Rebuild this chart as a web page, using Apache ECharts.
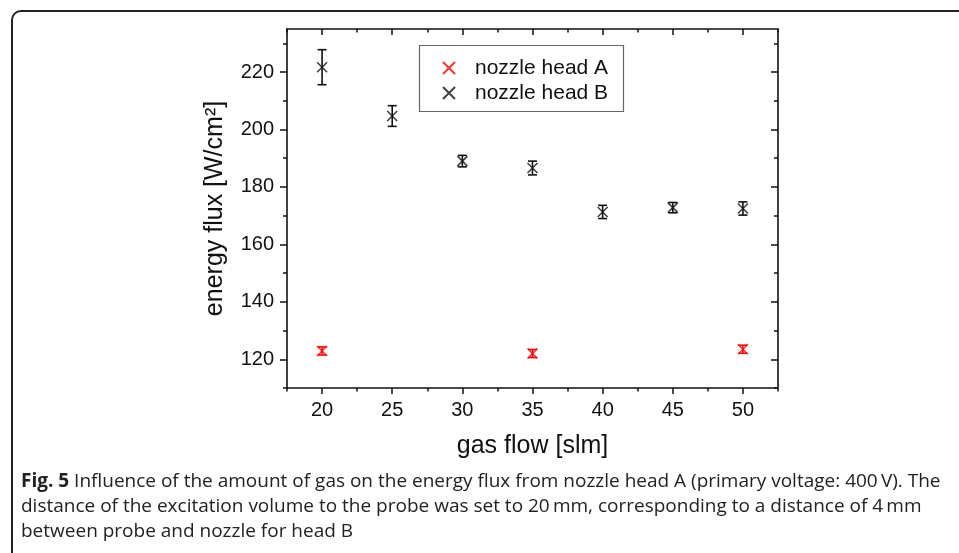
<!DOCTYPE html>
<html>
<head>
<meta charset="utf-8">
<script src="https://cdn.jsdelivr.net/npm/echarts@6/dist/echarts.min.js"></script>
<style>
  html, body { margin: 0; padding: 0; background: #fff; }
  #chart { width: 959px; height: 553px; }
</style>
</head>
<body>
<div id="chart"></div>
<script>
// data
var flowA = [20, 35, 50];
var fluxA = [122.9, 122.0, 123.5];
var errA = [1.4, 1.4, 1.4];

var flowB = [20, 25, 30, 35, 40, 45, 50];
var fluxB = [221.7, 204.7, 189.0, 186.6, 171.3, 172.8, 172.5];
var errB = [6.1, 3.6, 2.0, 2.4, 2.3, 1.8, 2.3];

var xMajor = [20, 25, 30, 35, 40, 45, 50];
var xMinor = [17.5, 22.5, 27.5, 32.5, 37.5, 42.5, 47.5, 52.5];
var yMajor = [120, 140, 160, 180, 200, 220];
var yMinor = [110, 130, 150, 170, 190, 210, 230];

var captionLines = [
  "{b|Fig. 5} Influence of the amount of gas on the energy flux from nozzle head A (primary voltage: 400\u2009V). The",
  "distance of the excitation volume to the probe was set to 20\u2009mm, corresponding to a distance of 4\u2009mm",
  "between probe and nozzle for head B"
];

(function () {
  var myChart = echarts.init(document.getElementById("chart"));
  var cross = "path://M0,0L10,10M10,0L0,10";
  var axisFont = "Liberation Sans";

  function zip(xs, ys, es) {
    return xs.map(function (x, i) { return [x, ys[i], es[i]]; });
  }

  // one axis per tick set (major / minor) and side
  function xAxisOf(pos, ticks, len, showLine, labels) {
    return {
      type: "value", position: pos, min: 17.5, max: 52.5,
      axisLine: { show: showLine, onZero: false, lineStyle: { color: "#111", width: 1.6 } },
      axisTick: { show: true, inside: pos === "top", length: len, customValues: ticks,
        lineStyle: { color: "#111", width: 1.5 } },
      axisLabel: { show: labels, customValues: ticks, margin: 12, fontSize: 20,
        color: "#111", fontFamily: axisFont },
      splitLine: { show: false },
      name: labels ? "gas flow [slm]" : "",
      nameLocation: "middle", nameGap: 46,
      nameTextStyle: { fontSize: 25, color: "#111", fontFamily: axisFont }
    };
  }
  function yAxisOf(pos, ticks, len, showLine, labels) {
    return {
      type: "value", position: pos, min: 110, max: 235,
      axisLine: { show: showLine, onZero: false, lineStyle: { color: "#111", width: 1.6 } },
      axisTick: { show: true, inside: pos === "right", length: len, customValues: ticks,
        lineStyle: { color: "#111", width: 1.5 } },
      axisLabel: { show: labels, customValues: ticks, margin: 13, fontSize: 20,
        color: "#111", fontFamily: axisFont },
      splitLine: { show: false },
      name: labels ? "energy flux [W/cm\u00b2]" : "",
      nameLocation: "middle", nameGap: 59,
      nameTextStyle: { fontSize: 25, color: "#111", fontFamily: axisFont }
    };
  }

  function errorBars(params, api) {
    var x = api.value(0), y = api.value(1), e = api.value(2);
    var hi = api.coord([x, y + e]);
    var lo = api.coord([x, y - e]);
    var hw = 4.5;
    var st = { stroke: api.visual("color"), lineWidth: 1.6 };
    return {
      type: "group",
      children: [
        { type: "line", shape: { x1: hi[0], y1: hi[1], x2: lo[0], y2: lo[1] }, style: st },
        { type: "line", shape: { x1: hi[0] - hw, y1: hi[1], x2: hi[0] + hw, y2: hi[1] }, style: st },
        { type: "line", shape: { x1: lo[0] - hw, y1: lo[1], x2: lo[0] + hw, y2: lo[1] }, style: st }
      ]
    };
  }

  var option = {
    animation: false,
    grid: { left: 287, right: 181, top: 29, bottom: 165 },
    legend: {
      left: 442, top: 57, orient: "vertical", itemGap: 3, padding: 0,
      itemWidth: 12, itemHeight: 12,
      data: ["nozzle head A", "nozzle head B"],
      textStyle: { fontSize: 21, color: "#111", fontFamily: axisFont, lineHeight: 22,
        padding: [0, 0, 0, 15] }
    },
    xAxis: [
      xAxisOf("bottom", xMajor, 6, true, true),
      xAxisOf("bottom", xMinor, 3.5, false, false),
      xAxisOf("top", xMajor, 6, true, false),
      xAxisOf("top", xMinor, 3.5, false, false)
    ],
    yAxis: [
      yAxisOf("left", yMajor, 7, true, true),
      yAxisOf("left", yMinor, 4, false, false),
      yAxisOf("right", yMajor, 7, true, false),
      yAxisOf("right", yMinor, 4, false, false)
    ],
    series: [
      {
        name: "nozzle head A", type: "scatter", symbol: cross, symbolSize: 10,
        itemStyle: { color: "rgba(0,0,0,0)", borderColor: "#f00", borderWidth: 1.6 },
        data: zip(flowA, fluxA, errA), z: 3
      },
      {
        name: "nozzle head B", type: "scatter", symbol: cross, symbolSize: 10,
        itemStyle: { color: "rgba(0,0,0,0)", borderColor: "#111", borderWidth: 1.6 },
        data: zip(flowB, fluxB, errB), z: 3
      },
      {
        name: "errA", type: "custom", renderItem: errorBars,
        itemStyle: { color: "#f00" }, encode: { x: 0, y: 1 },
        data: zip(flowA, fluxA, errA)
      },
      {
        name: "errB", type: "custom", renderItem: errorBars,
        itemStyle: { color: "#111" }, encode: { x: 0, y: 1 },
        data: zip(flowB, fluxB, errB)
      }
    ],
    graphic: [
      // figure frame
      { type: "rect", shape: { x: 12, y: 11, width: 980, height: 600, r: 9 },
        style: { fill: "none", stroke: "#222", lineWidth: 2 }, silent: true },
      // legend box
      { type: "rect", shape: { x: 419.5, y: 45.5, width: 204, height: 66 },
        style: { fill: "none", stroke: "#666", lineWidth: 1.2 }, silent: true }
    ].concat(captionLines.map(function (t, i) {
      return {
        type: "text", left: 21, top: 472 + i * 25,
        style: {
          text: t, fontSize: 19, fill: "#222", fontFamily: "Open Sans",
          rich: { b: { fontWeight: "bold", fontSize: 19, fontFamily: "Open Sans", fill: "#222" } }
        }
      };
    }))
  };

  myChart.setOption(option);
  window.addEventListener("resize", function () {
    myChart.resize();
  });
})();
</script>
</body>
</html>
